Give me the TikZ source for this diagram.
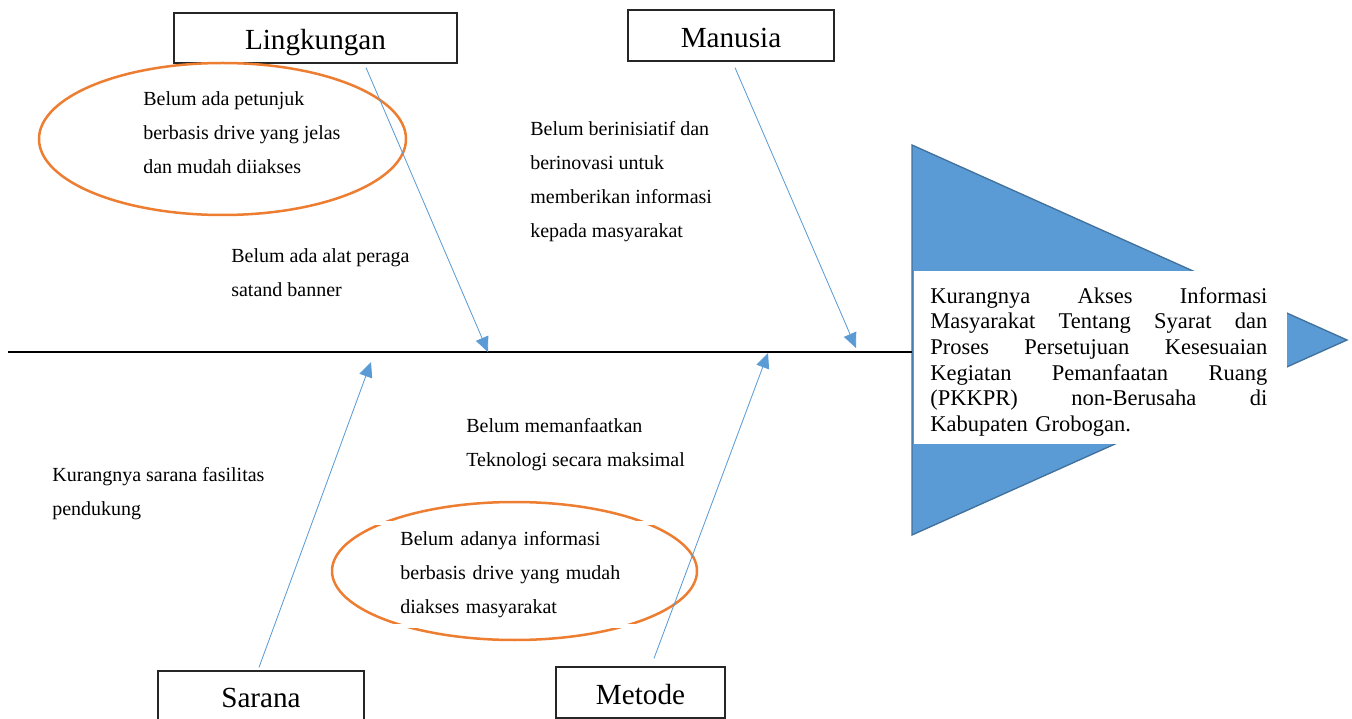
\documentclass[tikz,border=0pt]{standalone}
\usepackage{fontspec}
\setmainfont{Liberation Serif}
\usetikzlibrary{arrows.meta,calc}
\definecolor{fishblue}{HTML}{5B9BD5}
\definecolor{fishedge}{HTML}{41719C}
\definecolor{causeorange}{HTML}{ED7D31}

\tikzset{
  catbox/.style={draw=black!85, line width=0.75pt, fill=white, inner sep=0pt,
                 text height=18pt, text depth=3.8pt,
                 font=\fontsize{17.5}{20}\selectfont},
  note/.style={anchor=north west, inner sep=0pt, align=left,
               font=\fontsize{12}{20.4}\selectfont},
  bone/.style={draw=fishblue, line width=0.5pt, -{Triangle[length=9pt,width=8pt]}},
  halo/.style={draw=causeorange, line width=1.5pt},
  spine/.style={draw=black, line width=0.8pt},
}

\begin{document}
\begin{tikzpicture}[x=0.6pt,y=-0.6pt]
\useasboundingbox (0,0) rectangle (1352,719);
\clip (0,0) rectangle (1352,719);

% fish head with a white panel for the problem statement
\draw[fill=fishblue, draw=fishedge, line width=0.8pt]
  (912,145) -- (1347,340) -- (912,535) -- cycle;
\fill[white] (913.5,271) rectangle (1287,444);
\node[anchor=north west, inner sep=0pt, text width=202.2pt, align=left,
      font=\fontsize{13.5}{15.4}\selectfont]
  (problem) at (930,287)
  {Kurangnya\hfill Akses\hfill Informasi\\
   Masyarakat\hfill Tentang\hfill Syarat\hfill dan\\
   Proses\hfill Persetujuan\hfill Kesesuaian\\
   Kegiatan\hfill Pemanfaatan\hfill Ruang\\
   (PKKPR)\hfill non-Berusaha\hfill di\\
   Kabupaten Grobogan.};

% backbone
\coordinate (tail) at (8,352);
\coordinate (headjoin) at (912,352);
\draw[spine] (tail) -- (headjoin);

% category boxes
\node[catbox, minimum width=169.8pt, minimum height=30pt]   (lingk) at (315.5,38)   {Lingkungan};
\node[catbox, minimum width=123.6pt, minimum height=30.6pt] (manus) at (731,35.5)   {Manusia};
\node[catbox, minimum width=123.6pt, minimum height=30pt]   (saran) at (261,696)    {Sarana};
\node[catbox, minimum width=101.4pt, minimum height=30.6pt] (metod) at (640.5,692.5) {Metode};

% highlighted causes
\draw[halo] (222.5,139) ellipse [x radius=183.5, y radius=76];
\draw[halo] (514.5,571) ellipse [x radius=182.5, y radius=69];

% cause texts
\node[note] (c1) at (143,91)  {Belum ada petunjuk\\berbasis drive yang jelas\\dan mudah diiakses};
\node[note] (c2) at (231,248) {Belum ada alat peraga\\satand banner};
\node[note] (c3) at (530,121) {Belum berinisiatif dan\\berinovasi untuk\\memberikan informasi\\kepada masyarakat};
\node[note] (c4) at (52,467)  {Kurangnya sarana fasilitas\\pendukung};
\node[note] (c5) at (466,418) {Belum memanfaatkan\\Teknologi secara maksimal};
\node[note, draw=white, line width=2.5pt, inner xsep=47pt, inner ysep=5pt, text width=139pt]
  (c6) at (320,521) {Belum adanya informasi\\berbasis drive yang mudah\\diakses masyarakat};

% bones into the backbone
\coordinate (lingkT) at (488,352);
\coordinate (manusT) at (856,348);
\coordinate (saranT) at (371,362);
\coordinate (metodT) at (768,353);
\draw[bone] ($(lingk.south)+(50.5,4)$) -- (lingkT);
\draw[bone] ($(manus.south)+(4,6)$) -- (manusT);
\draw[bone] ($(saran.north)+(-2,-3)$) -- (saranT);
\draw[bone] ($(metod.north)+(13.5,-8)$) -- (metodT);
\end{tikzpicture}
\end{document}
